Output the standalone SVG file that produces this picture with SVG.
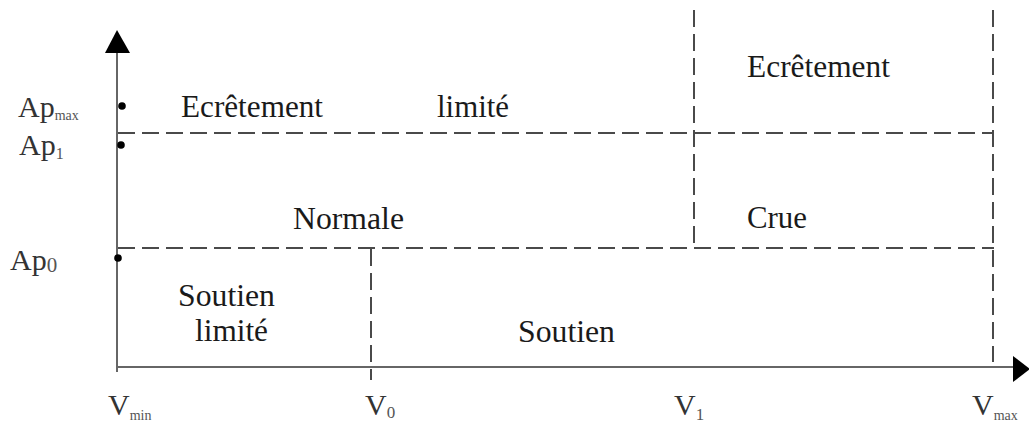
<svg xmlns="http://www.w3.org/2000/svg" width="1029" height="423" viewBox="0 0 1029 423">
  <style>
    .t { font-family: "Liberation Serif", "Times New Roman", serif; font-size: 31px; fill: #1a1a1a; }
    .ax { font-family: "Liberation Serif", "Times New Roman", serif; font-size: 30px; fill: #333; }
    .sub { font-family: "Liberation Serif", "Times New Roman", serif; fill: #555; }
    .dash { stroke: #4a4a4a; stroke-width: 2; stroke-dasharray: 17 7; fill: none; }
    .axis { stroke: #666; stroke-width: 2; fill: none; }
  </style>
  <rect width="1029" height="423" fill="#fff"/>

  <g id="connectors">
    <!-- axes -->
    <line class="axis" x1="117" y1="50" x2="117" y2="372"/>
    <polygon points="117,30 105,53 130,53" fill="#000"/>
    <line class="axis" x1="117" y1="367" x2="1015" y2="367" stroke="#555"/>
    <polygon points="1013,356 1013,382 1030,369" fill="#000"/>
    <!-- dashed boundaries -->
    <line class="dash" x1="118" y1="133" x2="994" y2="133"/>
    <line class="dash" x1="118" y1="248" x2="994" y2="248"/>
    <line class="dash" x1="694" y1="10" x2="694" y2="245"/>
    <line class="dash" x1="993" y1="10" x2="993" y2="362"/>
    <line class="dash" x1="371" y1="249" x2="371" y2="380"/>
  </g>

  <g id="points">
    <circle cx="122" cy="106" r="3.8" fill="#000"/>
    <circle cx="121" cy="145" r="3.8" fill="#000"/>
    <circle cx="118" cy="258" r="3.8" fill="#000"/>
  </g>

  <g id="zone-ecretement-limite">
    <text class="t" x="181" y="117" textLength="142" lengthAdjust="spacingAndGlyphs">Ecrêtement</text>
    <text class="t" x="437" y="117" textLength="72" lengthAdjust="spacingAndGlyphs">limité</text>
  </g>
  <g id="zone-ecretement">
    <text class="t" x="747" y="77" textLength="143" lengthAdjust="spacingAndGlyphs">Ecrêtement</text>
  </g>
  <g id="zone-normale">
    <text class="t" x="293" y="229" textLength="111" lengthAdjust="spacingAndGlyphs">Normale</text>
  </g>
  <g id="zone-crue">
    <text class="t" x="747" y="228" textLength="60" lengthAdjust="spacingAndGlyphs">Crue</text>
  </g>
  <g id="zone-soutien-limite">
    <text class="t" x="178" y="306" textLength="97" lengthAdjust="spacingAndGlyphs">Soutien</text>
    <text class="t" x="195" y="341" textLength="73" lengthAdjust="spacingAndGlyphs">limité</text>
  </g>
  <g id="zone-soutien">
    <text class="t" x="518" y="342" textLength="97" lengthAdjust="spacingAndGlyphs">Soutien</text>
  </g>

  <g id="y-labels">
    <text class="ax" x="18" y="117">Ap<tspan class="sub" font-size="14" dy="3">max</tspan></text>
    <text class="ax" x="19" y="155">Ap<tspan class="sub" font-size="16" dy="4">1</tspan></text>
    <text class="ax" x="10" y="270">Ap<tspan class="sub" font-size="21" dy="2">0</tspan></text>
  </g>
  <g id="x-labels">
    <text class="ax" x="108" y="415">V<tspan class="sub" font-size="14" dy="5">min</tspan></text>
    <text class="ax" x="365" y="415">V<tspan class="sub" font-size="17" dy="3">0</tspan></text>
    <text class="ax" x="674" y="415">V<tspan class="sub" font-size="17" dy="5">1</tspan></text>
    <text class="ax" x="972" y="415">V<tspan class="sub" font-size="14" dy="5">max</tspan></text>
  </g>
</svg>
